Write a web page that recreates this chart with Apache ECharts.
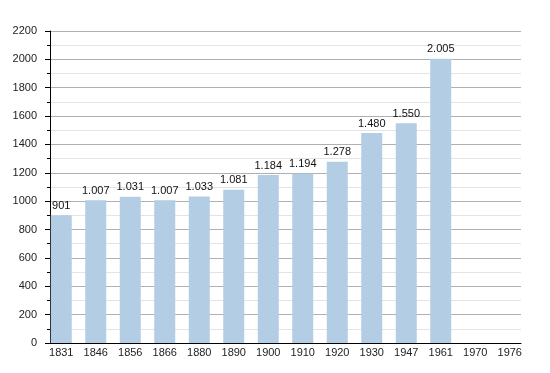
<!DOCTYPE html>
<html><head><meta charset="utf-8">
<script src="https://cdn.jsdelivr.net/npm/echarts@6/dist/echarts.min.js"></script>
<style>html,body{margin:0;padding:0;background:#fff}#c{width:550px;height:373px}</style>
</head><body><div id="c"></div>
<script>
var years = ['1831','1846','1856','1866','1880','1890','1900','1910','1920','1930','1947','1961','1970','1976'];
var population = [901,1007,1031,1007,1033,1081,1184,1194,1278,1480,1550,2005,null,null];
var yMin = 0, yMax = 2200, yStep = 200;

function fmt(v){ return String(v).replace(/\B(?=(\d{3})+(?!\d))/g,'.'); }

var chart = echarts.init(document.getElementById('c'), null, {renderer:'canvas'});
var font = 'Liberation Sans, Arial, Helvetica, sans-serif';
chart.setOption({
  animation:false,
  grid:[
    {left:50, right:29, top:31, bottom:30},
    {left:44, width:483, top:31, bottom:30}
  ],
  xAxis:[
    {gridIndex:0, type:'category', data:years, boundaryGap:true,
     axisLine:{show:true, lineStyle:{color:'#000', width:1}}, axisTick:{show:false}, axisLabel:{show:false}, splitLine:{show:false}},
    {gridIndex:1, type:'category', data:years, boundaryGap:true,
     axisLine:{show:false}, axisTick:{show:false},
     axisLabel:{color:'#222', fontSize:11, fontFamily:font, margin:4}}
  ],
  yAxis:[
    {gridIndex:0, type:'value', min:yMin, max:yMax, interval:yStep,
     axisLine:{show:true, lineStyle:{color:'#000'}},
     axisTick:{show:true, length:5, lineStyle:{color:'#000'}},
     minorTick:{show:true, splitNumber:2, length:3, lineStyle:{color:'#000'}},
     axisLabel:{color:'#222', fontSize:11, fontFamily:font, margin:13, formatter:function(v){return String(v);}},
     splitLine:{show:true, lineStyle:{color:'#b0b0b0', width:1}},
     minorSplitLine:{show:true, lineStyle:{color:'#e4e4e4', width:1}}},
    {gridIndex:1, type:'value', min:yMin, max:yMax, interval:yStep, show:false, splitLine:{show:false}}
  ],
  series:[{
    type:'bar', xAxisIndex:1, yAxisIndex:1, data:population, barWidth:21,
    itemStyle:{color:'#b3cde5'},
    label:{show:true, position:'top', distance:4, color:'#111', fontSize:11, fontFamily:font,
      formatter:function(p){ return p.value==null?'':fmt(p.value); }}
  }]
});
</script></body></html>
